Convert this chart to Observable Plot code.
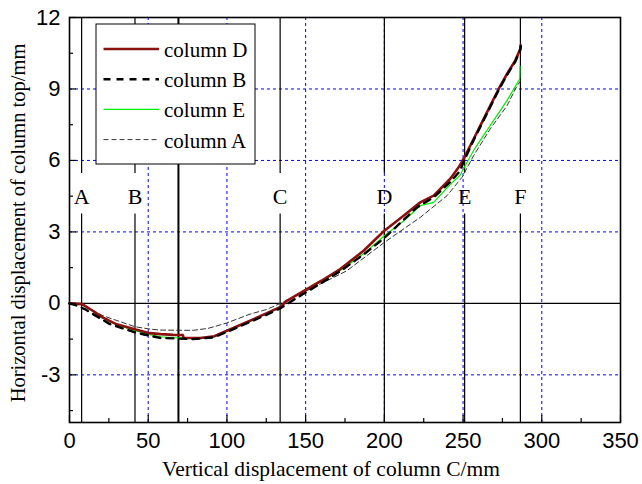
<!DOCTYPE html>
<html>
<head>
<meta charset="utf-8">
<script src="https://cdn.jsdelivr.net/npm/d3@7"></script>
<script src="https://cdn.jsdelivr.net/npm/@observablehq/plot@0.6"></script>
<style>
  html, body { margin: 0; padding: 0; background: #fff; }
  #chart svg { display: block; }
</style>
</head>
<body>
<div id="chart"></div>
<script>
// ---- data ----
const xTicks = [0, 50, 100, 150, 200, 250, 300, 350];
const xMinorTicks = [25, 75, 125, 175, 225, 275, 325];
const yTicks = [-3, 0, 3, 6, 9, 12];
const yMinorTicks = [-4.5, -1.5, 1.5, 4.5, 7.5, 10.5];
const gridX = [50, 100, 150, 200, 250, 300];
const gridY = [-3, 3, 6, 9];
const markerNames = ["A", "B", "C", "D", "E", "F"];
const markerX = [7.7, 41.6, 133.8, 200, 251, 286.4];
const extraLineX = [69.2];

const seriesNames = ["column D", "column B", "column E", "column A"];

const xD = [0, 8, 15, 21, 30, 42, 51, 58, 66, 72, 72.5, 83, 92, 100, 114.7, 125, 134, 138, 150.8, 160, 172, 186.8, 200, 212.2, 222.8, 231.3, 241.9, 247.2, 250.4, 256.7, 262, 267.3, 272.6, 278, 283.2, 286.4, 286.6];
const yD = [0, -0.03, -0.32, -0.59, -0.88, -1.1, -1.25, -1.29, -1.32, -1.33, -1.45, -1.45, -1.38, -1.15, -0.73, -0.42, -0.15, 0.11, 0.6, 0.95, 1.44, 2.21, 3.05, 3.68, 4.24, 4.52, 5.23, 5.71, 6.07, 6.9, 7.6, 8.3, 9.0, 9.64, 10.2, 10.69, 10.83];

const xB = [0, 5, 10, 15, 25.7, 41.6, 57.5, 78.7, 91.4, 100, 114.7, 125, 134, 148.5, 160, 172, 186.8, 200, 220.7, 231.3, 241.9, 248, 250.4, 256.7, 262, 267.3, 272.6, 278, 283.2, 286.4, 286.6];
const yB = [0, -0.1, -0.25, -0.45, -0.87, -1.22, -1.45, -1.5, -1.43, -1.2, -0.78, -0.48, -0.2, 0.4, 0.85, 1.35, 2.05, 2.75, 4.03, 4.45, 5.1, 5.55, 5.95, 6.85, 7.55, 8.25, 8.95, 9.6, 10.15, 10.65, 10.8];

const xE = [0, 8, 15, 21, 30, 42, 50, 58, 66, 72, 72.5, 83, 92, 100, 114.7, 125, 134, 138, 150.8, 160, 172, 186.8, 200, 212, 222.8, 231.3, 241.9, 248, 251.4, 256.7, 267.3, 278, 286, 286.2];
const yE = [0, -0.03, -0.32, -0.6, -0.9, -1.15, -1.3, -1.4, -1.44, -1.45, -1.45, -1.45, -1.38, -1.15, -0.73, -0.42, -0.15, 0.11, 0.58, 0.92, 1.38, 2.08, 2.84, 3.45, 4.1, 4.24, 5.0, 5.37, 5.79, 6.42, 7.47, 8.52, 9.43, 9.95];

const xA = [0, 8, 21.3, 41.6, 51.2, 57.5, 72.4, 78.7, 88, 100, 114.7, 125, 130.6, 137, 155, 176.2, 200, 222.8, 239.8, 249.3, 256.7, 267.3, 278, 283.2, 286];
const yA = [0, -0.05, -0.52, -0.98, -1.08, -1.12, -1.13, -1.13, -1.05, -0.82, -0.45, -0.26, -0.1, 0.1, 0.67, 1.37, 2.56, 3.61, 4.52, 5.29, 6.2, 7.33, 8.3, 9.0, 9.3];

const xTitle = "Vertical displacement of column C/mm";
const yTitle = "Horizontal displacement of column top/mm";

// ---- build tables ----
const toRows = (xs, ys) => xs.map((x, i) => ({x, y: ys[i]}));
const dataD = toRows(xD, yD);
const dataB = toRows(xB, yB);
const dataE = toRows(xE, yE);
const dataA = toRows(xA, yA);
const markers = markerNames.map((name, i) => ({name, x: markerX[i]}));

const serif = "Liberation Serif, Times New Roman, serif";
const sans = "Liberation Sans, Arial, sans-serif";
const yMin = -5, yMax = 12;
const labelY = 4.45, gapLo = 3.75, gapHi = 5.45;

const styles = {
  "column D": {stroke: "#8b1010", strokeWidth: 2.6, dash: null},
  "column B": {stroke: "#000", strokeWidth: 2.4, dash: "7,6"},
  "column E": {stroke: "#00ee00", strokeWidth: 1.2, dash: null},
  "column A": {stroke: "#333", strokeWidth: 1, dash: "5,3"}
};
const plainFmt = d => String(d);

const chart = Plot.plot({
  width: 642,
  height: 484,
  marginLeft: 69,
  marginRight: 22,
  marginTop: 17,
  marginBottom: 62,
  x: {domain: [0, 350]},
  y: {domain: [yMin, yMax]},
  style: {fontFamily: sans, background: "white"},
  marks: [
    // blue dashed grid
    Plot.ruleX(gridX, {stroke: "#0000ff", strokeWidth: 1, strokeDasharray: "3,3"}),
    Plot.ruleY(gridY, {stroke: "#0000ff", strokeWidth: 1, strokeDasharray: "3,3"}),
    // zero line
    Plot.ruleY([0], {stroke: "#000", strokeWidth: 1.2}),
    // marker lines with gaps for labels
    Plot.ruleX(markers, {x: "x", y1: yMin, y2: gapLo, stroke: "#000", strokeWidth: 1.2}),
    Plot.ruleX(markers, {x: "x", y1: gapHi, y2: yMax, stroke: "#000", strokeWidth: 1.2}),
    Plot.ruleX(extraLineX, {stroke: "#000", strokeWidth: 2}),
    Plot.text(markers, {x: "x", y: labelY, text: "name", fontFamily: serif, fontSize: 22, fill: "#000"}),
    // series
    Plot.line(dataA, {x: "x", y: "y", stroke: styles["column A"].stroke, strokeWidth: styles["column A"].strokeWidth, strokeDasharray: styles["column A"].dash}),
    Plot.line(dataE, {x: "x", y: "y", stroke: styles["column E"].stroke, strokeWidth: styles["column E"].strokeWidth}),
    Plot.line(dataD, {x: "x", y: "y", stroke: styles["column D"].stroke, strokeWidth: styles["column D"].strokeWidth}),
    Plot.line(dataB, {x: "x", y: "y", stroke: styles["column B"].stroke, strokeWidth: styles["column B"].strokeWidth, strokeDasharray: styles["column B"].dash}),
    // axes: labels
    Plot.axisX(xTicks, {tickSize: 0, tickPadding: 10, fontSize: 22, fontFamily: sans, fill: "#000", label: null, tickFormat: plainFmt}),
    Plot.axisY(yTicks, {tickSize: 0, tickPadding: 9, fontSize: 22, fontFamily: sans, fill: "#000", label: null, tickFormat: plainFmt}),
    // axes: inward ticks
    Plot.axisX(xTicks, {tickSize: -7, tickFormat: () => "", label: null, stroke: "#000", strokeWidth: 1.2}),
    Plot.axisX(xMinorTicks, {tickSize: -4, tickFormat: () => "", label: null, stroke: "#000", strokeWidth: 1.2}),
    Plot.axisY(yTicks, {tickSize: -7, tickFormat: () => "", label: null, stroke: "#000", strokeWidth: 1.2}),
    Plot.axisY(yMinorTicks, {tickSize: -4, tickFormat: () => "", label: null, stroke: "#000", strokeWidth: 1.2}),
    // axis titles
    Plot.text([xTitle], {text: d => d, frameAnchor: "bottom", textAnchor: "middle", lineAnchor: "bottom", dx: -14, dy: 53, fontFamily: serif, fontSize: 21.5, fill: "#000"}),
    Plot.text([yTitle], {text: d => d, frameAnchor: "left", textAnchor: "middle", lineAnchor: "middle", rotate: -90, dx: -51, dy: 3, fontFamily: serif, fontSize: 20.5, fill: "#000"}),
    Plot.frame({stroke: "#000", strokeWidth: 1.6})
  ]
});

document.getElementById("chart").appendChild(chart);

// ---- legend drawn inside the plot (top-left) ----
const svg = d3.select(chart);
const lg = svg.append("g").attr("class", "legend");
lg.append("rect").attr("x", 96).attr("y", 24).attr("width", 159).attr("height", 140)
  .attr("fill", "#fff").attr("stroke", "#000").attr("stroke-width", 1);
seriesNames.forEach((name, i) => {
  const s = styles[name];
  const cy = 49 + i * 30.2;
  lg.append("line").attr("x1", 103.5).attr("x2", 159).attr("y1", cy).attr("y2", cy)
    .attr("stroke", s.stroke).attr("stroke-width", s.strokeWidth)
    .attr("stroke-dasharray", s.dash);
  lg.append("text").attr("x", 164).attr("y", cy + 8)
    .attr("text-anchor", "start")
    .attr("font-family", serif).attr("font-size", 21).attr("fill", "#000")
    .text(name);
});
</script>
</body>
</html>
